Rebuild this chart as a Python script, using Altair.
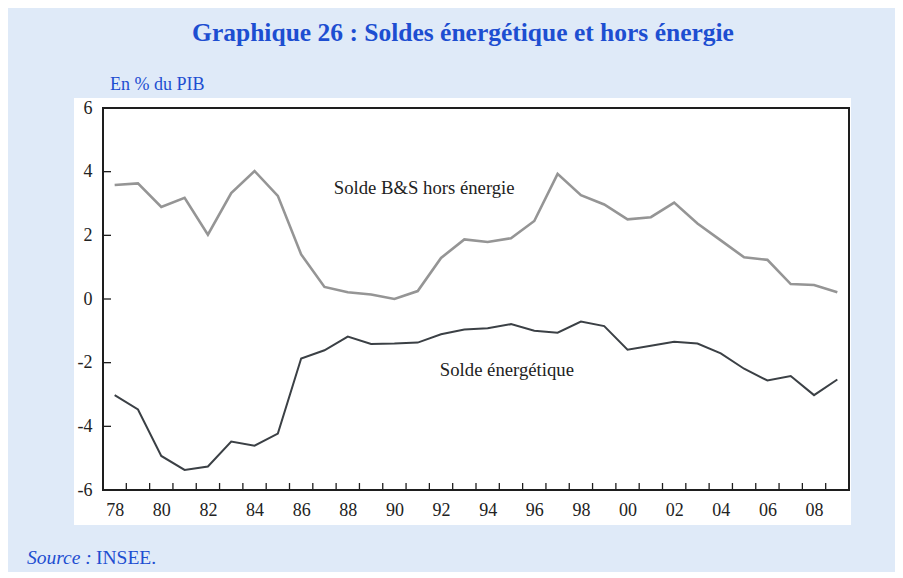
import altair as alt
import pandas as pd

years = list(range(1978, 2010))
solde_hors_energie = [3.58, 3.63, 2.89, 3.18, 2.02, 3.33, 4.02, 3.24, 1.40, 0.38,
                      0.21, 0.14, 0.00, 0.25, 1.29, 1.87, 1.79, 1.91, 2.45, 3.93,
                      3.26, 2.97, 2.50, 2.57, 3.03, 2.37, 1.84, 1.31, 1.23, 0.47,
                      0.44, 0.21]
solde_energetique = [-3.02, -3.47, -4.93, -5.37, -5.26, -4.48, -4.61, -4.23, -1.87, -1.61,
                     -1.18, -1.41, -1.40, -1.37, -1.11, -0.96, -0.92, -0.79, -1.00, -1.06,
                     -0.71, -0.85, -1.59, -1.47, -1.34, -1.40, -1.71, -2.19, -2.56, -2.42,
                     -3.02, -2.53]
series_names = ["Solde B&S hors énergie", "Solde énergétique"]
series_colors = ["#959595", "#3b4045"]
x_label_years = list(range(1978, 2009, 2))
y_tick_values = [-6, -4, -2, 0, 2, 4, 6]
label_year = [1987.4, 1991.95]
label_value = [3.5, -2.23]

W, H = 746, 382
FONT = "Liberation Serif"
BLUE = "#1d4ed1"
INK = "#222222"

lines_df = pd.DataFrame({
    "year": years * 2,
    "value": solde_hors_energie + solde_energetique,
    "series": [series_names[0]] * len(years) + [series_names[1]] * len(years),
})
xticks_df = pd.DataFrame({"year": [y + 0.5 for y in years[:-1]]})
yticks_df = pd.DataFrame({"value": [v for v in y_tick_values if -6 < v < 6]})
labels_df = pd.DataFrame({"year": label_year, "value": label_value, "text": series_names})
one = pd.DataFrame({"k": [0]})

x_enc = alt.X("year:Q",
              scale=alt.Scale(domain=[1977.5, 2009.5], nice=False, zero=False),
              axis=alt.Axis(values=x_label_years, format="d",
                            labelExpr="substring(datum.label, 2)",
                            title=None, grid=False, ticks=False, domain=False,
                            labelFont=FONT, labelFontSize=18, labelColor=INK,
                            labelPadding=11, zindex=2))
y_enc = alt.Y("value:Q",
              scale=alt.Scale(domain=[-6, 6], nice=False, zero=False),
              axis=alt.Axis(values=y_tick_values, title=None, grid=False,
                            labelExpr="toString(datum.value)",
                            ticks=False, domain=False,
                            labelFont=FONT, labelFontSize=18, labelColor=INK,
                            labelPadding=11, zindex=2))

panel = alt.Chart(one).mark_rect(fill="white", stroke=None).encode(
    x=alt.value(-29), x2=alt.value(W + 2), y=alt.value(-10), y2=alt.value(H + 35))

frame = alt.Chart(one).mark_rect(filled=False, stroke="#1e1e1e", strokeWidth=2).encode(
    x=alt.value(0), x2=alt.value(W), y=alt.value(0), y2=alt.value(H))

xticks = alt.Chart(xticks_df).mark_rule(color="#1e1e1e", strokeWidth=1.3).encode(
    x=x_enc, y=alt.value(H), y2=alt.value(H - 7))
yticks = alt.Chart(yticks_df).mark_rule(color="#1e1e1e", strokeWidth=1.3).encode(
    y=y_enc, x=alt.value(0), x2=alt.value(8))

lines = alt.Chart(lines_df).mark_line().encode(
    x=x_enc, y=y_enc,
    color=alt.Color("series:N", scale=alt.Scale(domain=series_names, range=series_colors), legend=None),
    strokeWidth=alt.StrokeWidth("series:N", scale=alt.Scale(domain=series_names, range=[2.6, 2.0]), legend=None),
)

labels = alt.Chart(labels_df).mark_text(align="left", baseline="middle", font=FONT,
                                        fontSize=18.7, color=INK).encode(
    x=x_enc, y=y_enc, text="text:N")

title = alt.Chart(one).mark_text(text="Graphique 26 : Soldes énergétique et hors énergie",
                                 align="center", baseline="alphabetic", font=FONT,
                                 fontSize=25.5, fontWeight="bold", color=BLUE).encode(
    x=alt.value(463 - 103), y=alt.value(41 - 108))
unit = alt.Chart(one).mark_text(text="En % du PIB", align="left", baseline="alphabetic",
                                font=FONT, fontSize=18, color=BLUE).encode(
    x=alt.value(110 - 103), y=alt.value(90 - 108))
source1 = alt.Chart(one).mark_text(text="Source :", align="left", baseline="alphabetic",
                                   font=FONT, fontSize=19.5, fontStyle="italic", color=BLUE).encode(
    x=alt.value(27 - 103), y=alt.value(564 - 108))
source2 = alt.Chart(one).mark_text(text="INSEE.", align="left", baseline="alphabetic",
                                   font=FONT, fontSize=19.5, color=BLUE).encode(
    x=alt.value(96 - 103), y=alt.value(564 - 108))

chart = alt.layer(panel, lines, frame, xticks, yticks, labels, title, unit, source1, source2).properties(
    width=W, height=H,
    autosize=alt.AutoSizeParams(type="none"),
    padding={"left": 95, "top": 100, "right": 46, "bottom": 82},
    background="#dfeaf8",
).configure_view(stroke=None, fill="white")

chart.save("out.html", embed_options={"renderer": "svg", "actions": False})
